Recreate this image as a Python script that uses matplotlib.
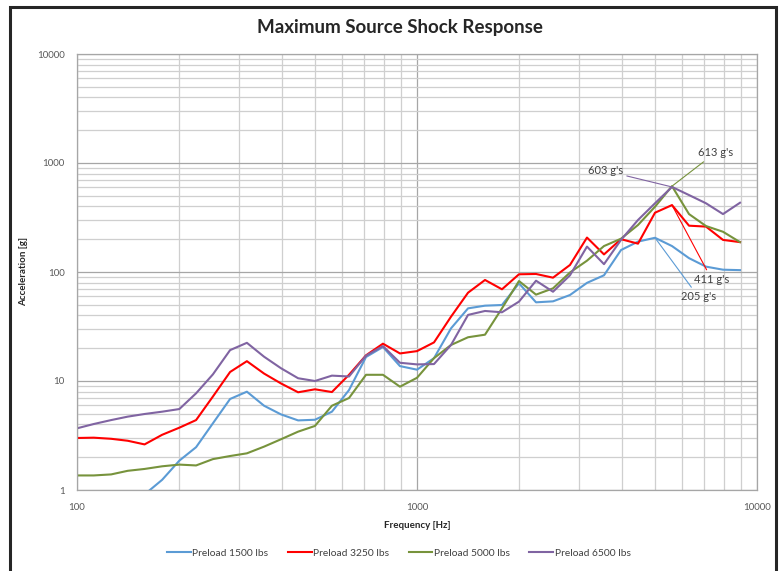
import numpy as np
import matplotlib
matplotlib.use("Agg")
import matplotlib.pyplot as plt
from matplotlib.patches import Rectangle
from matplotlib.ticker import FixedLocator, FuncFormatter, LogLocator, NullFormatter

plt.rcParams['font.family'] = ['Lato', 'DejaVu Sans']

# 1/6-octave frequencies [Hz]
freqs = [100, 112, 126, 141, 158, 178, 200, 224, 251, 282, 316, 355, 398, 447, 501,
         562, 631, 708, 794, 891, 1000, 1122, 1259, 1413, 1585, 1778, 1995, 2239, 2512,
         2818, 3162, 3548, 3981, 4467, 5012, 5623, 6310, 7079, 7943, 8913]

# peak acceleration [g] per preload
acc_1500 = [np.nan, np.nan, np.nan, np.nan, 0.91, 1.24, 1.86, 2.47, 4.09, 6.84, 7.98,
            5.93, 4.94, 4.35, 4.41, 5.23, 8.26, 16.6, 20.5, 13.7, 12.7, 16.2, 30.4,
            46.4, 49.1, 49.8, 78.7, 52.7, 53.8, 61.5, 79.5, 93.3, 159, 190, 206, 173,
            134, 112, 105, 104]
acc_3250 = [3.0, 3.02, 2.95, 2.83, 2.62, 3.21, 3.73, 4.38, 7.2, 12.1, 15.2, 11.7, 9.5,
            7.88, 8.39, 7.92, 11.4, 17.2, 22.0, 17.9, 18.8, 22.6, 38.9, 64.6, 84.5,
            69.4, 95.3, 95.9, 88.7, 116, 207, 145, 200, 182, 350, 411, 266, 261, 197, 188]
acc_5000 = [1.36, 1.36, 1.39, 1.50, 1.56, 1.65, 1.71, 1.68, 1.92, 2.05, 2.17, 2.50,
            2.92, 3.43, 3.87, 5.93, 6.98, 11.4, 11.4, 8.87, 10.7, 16.2, 21.4, 25.2,
            26.6, 46.4, 82.6, 62.0, 70.8, 99, 127, 173, 202, 270, 397, 613, 340, 264,
            234, 188]
acc_6500 = [3.68, 4.03, 4.38, 4.71, 4.98, 5.23, 5.53, 7.71, 11.5, 19.2, 22.4, 16.7,
            13.1, 10.6, 10.0, 11.2, 11.0, 17.1, 20.9, 14.7, 14.2, 14.3, 21.4, 40.4,
            43.9, 42.7, 53.5, 83.2, 65.9, 93.3, 171, 118, 197, 300, 427, 603, 508, 427,
            340, 432]

labels = ["Preload 1500 lbs", "Preload 3250 lbs", "Preload 5000 lbs", "Preload 6500 lbs"]
colors = ["#5B9BD5", "#FF0000", "#77933C", "#8064A2"]
series = [acc_1500, acc_3250, acc_5000, acc_6500]

# peak callouts: series index, point index, text, text position
callouts = [(2, 35, "613 g's", (6700, 1243), 'left'),
            (3, 35, "603 g's", (4027, 850), 'right'),
            (1, 35, "411 g's", (6530, 85.7), 'left'),
            (0, 34, "205 g's", (5965, 59.4), 'left')]

fig = plt.figure(figsize=(7.82, 5.71), dpi=100)
ax = fig.add_axes([77 / 782, 1 - 490 / 571, 680 / 782, 436 / 571])

for vals, lab, col in zip(series, labels, colors):
    ax.plot(freqs, vals, color=col, lw=1.5, label=lab)

for si, pi, txt, pos, ha in callouts:
    ax.annotate(txt, xy=(freqs[pi], series[si][pi]), xytext=pos, ha=ha, va='center',
                fontsize=8, color='#404040',
                arrowprops=dict(arrowstyle='-', color=colors[si], lw=0.8,
                                shrinkA=1, shrinkB=0))

ax.set_xscale('log')
ax.set_yscale('log')
ax.set_xlim(100, 10000)
ax.set_ylim(1, 10000)

ax.xaxis.set_major_locator(FixedLocator([100, 1000, 10000]))
ax.yaxis.set_major_locator(FixedLocator([1, 10, 100, 1000, 10000]))
ax.xaxis.set_minor_locator(LogLocator(base=10, subs=np.arange(2, 10)))
ax.yaxis.set_minor_locator(LogLocator(base=10, subs=np.arange(2, 10)))
fmt = FuncFormatter(lambda v, p: "%d" % round(v))
ax.xaxis.set_major_formatter(fmt)
ax.yaxis.set_major_formatter(fmt)
ax.xaxis.set_minor_formatter(NullFormatter())
ax.yaxis.set_minor_formatter(NullFormatter())
ax.tick_params(which='both', length=0, labelsize=7, labelcolor='#595959')
ax.tick_params(axis='x', pad=9)
ax.tick_params(axis='y', pad=9)

ax.grid(which='major', color='#A6A6A6', lw=0.9)
ax.grid(which='minor', color='#CFCFCF', lw=0.9)
ax.set_axisbelow(True)
for sp in ax.spines.values():
    sp.set_color('#A6A6A6')
    sp.set_linewidth(0.9)

ax.set_xlabel("Frequency [Hz]", fontsize=7, fontweight='bold', color='#262626')
ax.set_ylabel("Acceleration [g]", fontsize=7, fontweight='bold', color='#262626')
ax.xaxis.set_label_coords(0.5, -0.071)
ax.yaxis.set_label_coords(-0.072, 0.5)

fig.text(0.512, 1 - 28 / 571, "Maximum Source Shock Response", ha='center', va='center',
         fontsize=13.5, fontweight='bold', color='#262626')

fig.legend(loc='center', bbox_to_anchor=(0.51, 1 - 553 / 571), ncol=4, frameon=False,
           fontsize=7.4, handlelength=2.3, handletextpad=0.15, columnspacing=1.9,
           labelcolor='#404040')

fig.add_artist(Rectangle((10 / 782, -0.05), 766 / 782, 1 - 7 / 571 + 0.05,
                         transform=fig.transFigure, fill=False, ec='#262626', lw=2.2,
                         clip_on=False))

fig.savefig("out.png", dpi=100)
